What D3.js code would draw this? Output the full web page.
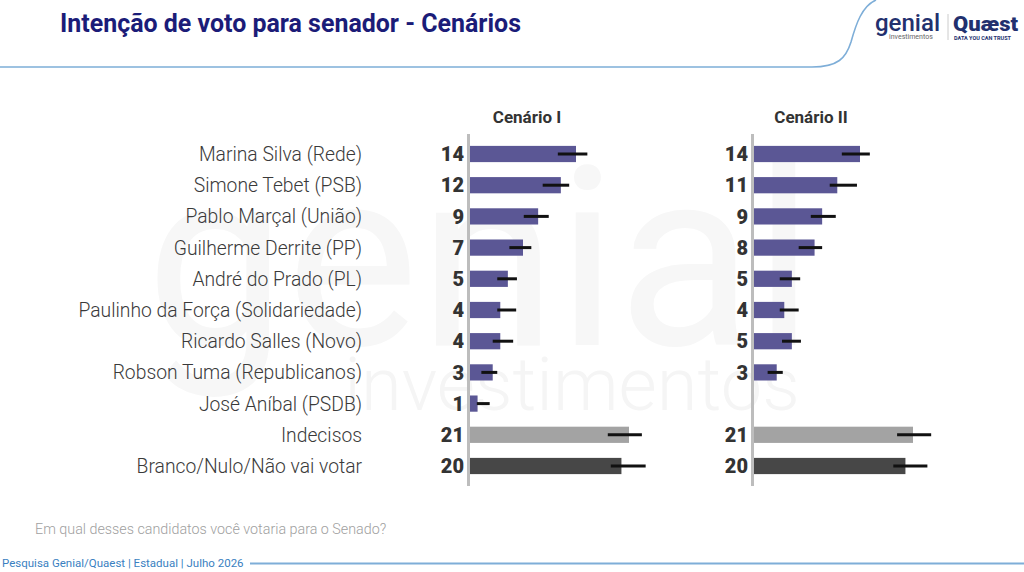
<!DOCTYPE html>
<html>
<head>
<meta charset="utf-8">
<script src="https://cdn.jsdelivr.net/npm/d3@7"></script>
<style>
  body { margin: 0; background: #fff; }
  svg { display: block; font-family: Roboto, "Noto Sans", sans-serif; }
</style>
</head>
<body>
<div id="chart"></div>
<script>
// data
var categories = ["Marina Silva (Rede)", "Simone Tebet (PSB)", "Pablo Marçal (União)",
  "Guilherme Derrite (PP)", "André do Prado (PL)", "Paulinho da Força (Solidariedade)",
  "Ricardo Salles (Novo)", "Robson Tuma (Republicanos)", "José Aníbal (PSDB)",
  "Indecisos", "Branco/Nulo/Não vai votar"];
var scenarios = ["Cenário I", "Cenário II"];
var values1 = [14, 12, 9, 7, 5, 4, 4, 3, 1, 21, 20];
var values2 = [14, 11, 9, 8, 5, 4, 5, 3, null, 21, 20];
var low1  = [11.6, 9.6, 7.1, 5.2, 3.6, 3.6, 3.0, 1.5, 0.9, 18.2, 18.6];
var high1 = [15.5, 13.1, 10.4, 8.1, 6.2, 6.1, 5.7, 3.6, 2.6, 22.7, 23.2];
var low2  = [11.6, 10.0, 7.5, 5.9, 3.4, 3.4, 3.7, 1.8, null, 18.9, 18.4];
var high2 = [15.3, 13.6, 10.8, 9.0, 6.1, 5.9, 6.2, 3.8, null, 23.4, 22.9];

var width = 1024, height = 572;

var svg = d3.select("#chart").append("svg")
  .attr("width", width)
  .attr("height", height);

// faint watermark
svg.append("text")
  .attr("x", 480).attr("y", 345)
  .attr("text-anchor", "middle")
  .style("font-size", "250px")
  .style("font-weight", 400)
  .style("fill", "#f7f7f7")
  .text("genial");
svg.append("text")
  .attr("x", 572).attr("y", 410)
  .attr("text-anchor", "middle")
  .style("font-size", "74px")
  .style("font-weight", 300)
  .style("fill", "#f5f5f5")
  .text("investimentos");

// header
svg.append("text")
  .attr("x", 60).attr("y", 32)
  .style("font-size", "25px")
  .style("font-weight", 700)
  .style("fill", "#1b1c78")
  .attr("textLength", 461)
  .attr("lengthAdjust", "spacingAndGlyphs")
  .text("Intenção de voto para senador - Cenários");

svg.append("path")
  .attr("d", "M0,67 L812,67 C838,67 846,58 851,42 C856,24 862,6 876,0")
  .attr("fill", "none")
  .attr("stroke", "#7eaed8")
  .attr("stroke-width", 1.6);

// logos
svg.append("text").attr("x", 875).attr("y", 31)
  .style("font-size", "24px").style("fill", "#22306e").style("font-weight", 500)
  .text("genial");
svg.append("text").attr("x", 889).attr("y", 39)
  .style("font-size", "7px").style("fill", "#666")
  .text("investimentos");
svg.append("line").attr("x1", 948).attr("x2", 948).attr("y1", 14).attr("y2", 40)
  .attr("stroke", "#ccc");
svg.append("text").attr("x", 953).attr("y", 31)
  .style("font-size", "20px").style("fill", "#22306e").style("font-weight", 900)
  .attr("textLength", 65)
  .attr("lengthAdjust", "spacingAndGlyphs")
  .text("Quæst");
svg.append("text").attr("x", 954).attr("y", 40)
  .style("font-size", "5.5px").style("fill", "#22306e").style("font-weight", 700)
  .text("DATA YOU CAN TRUST");

// scales
var y = d3.scaleBand()
  .domain(categories)
  .range([138.4, 481.6])
  .paddingInner(0.48)
  .paddingOuter(0.24);

var x = d3.scaleLinear().domain([0, 21]).range([0, 159]);

function barColor(i) {
  if (categories[i] === "Indecisos") return "#a3a3a3";
  if (categories[i] === "Branco/Nulo/Não vai votar") return "#474747";
  return "#5b5795";
}

// category labels
svg.append("g").selectAll("text")
  .data(categories)
  .join("text")
  .attr("x", 362)
  .attr("y", function(d) { return y(d) + y.bandwidth() / 2; })
  .attr("dy", "0.36em")
  .attr("text-anchor", "end")
  .style("font-size", "19.3px")
  .style("font-weight", 300)
  .style("fill", "#3a3a3a")
  .text(function(d) { return d; });

var panels = [
  {name: scenarios[0], x0: 470, values: values1, low: low1, high: high1},
  {name: scenarios[1], x0: 754, values: values2, low: low2, high: high2}
];

panels.forEach(function(p) {
  var g = svg.append("g").attr("transform", "translate(" + p.x0 + ",0)");
  var rows = categories.map(function(c, i) {
    return {cat: c, i: i, v: p.values[i], lo: p.low[i], hi: p.high[i]};
  });

  g.append("text")
    .attr("x", 57).attr("y", 123)
    .attr("text-anchor", "middle")
    .style("font-size", "17px")
    .style("font-weight", 700)
    .style("fill", "#333")
    .text(p.name);

  g.selectAll("rect.bar")
    .data(rows.filter(function(d) { return d.v != null; }))
    .join("rect")
    .attr("class", "bar")
    .attr("x", 0)
    .attr("y", function(d) { return y(d.cat); })
    .attr("width", function(d) { return x(d.v); })
    .attr("height", y.bandwidth())
    .attr("fill", function(d) { return barColor(d.i); });

  g.selectAll("line.err")
    .data(rows.filter(function(d) { return d.lo != null; }))
    .join("line")
    .attr("class", "err")
    .attr("x1", function(d) { return x(d.lo); })
    .attr("x2", function(d) { return x(d.hi); })
    .attr("y1", function(d) { return y(d.cat) + y.bandwidth() / 2; })
    .attr("y2", function(d) { return y(d.cat) + y.bandwidth() / 2; })
    .attr("stroke", "#111")
    .attr("stroke-width", 3);

  g.selectAll("text.val")
    .data(rows.filter(function(d) { return d.v != null; }))
    .join("text")
    .attr("class", "val")
    .attr("x", -6)
    .attr("y", function(d) { return y(d.cat) + y.bandwidth() / 2; })
    .attr("dy", "0.36em")
    .attr("text-anchor", "end")
    .style("font-size", "20px")
    .style("font-weight", 900)
    .style("fill", "#333")
    .text(function(d) { return d.v; });

  g.append("line")
    .attr("x1", -1.5).attr("x2", -1.5)
    .attr("y1", 134).attr("y2", 486)
    .attr("stroke", "#bdbdbd")
    .attr("stroke-width", 3);
});

// footer
svg.append("text")
  .attr("x", 35).attr("y", 534)
  .style("font-size", "14.3px")
  .style("font-weight", 300)
  .style("fill", "#a0a0a0")
  .text("Em qual desses candidatos você votaria para o Senado?");

svg.append("text")
  .attr("x", 2).attr("y", 567)
  .style("font-size", "11.5px")
  .style("fill", "#3a7fc1")
  .text("Pesquisa Genial/Quaest | Estadual | Julho 2026");

svg.append("line")
  .attr("x1", 250).attr("x2", 1024)
  .attr("y1", 563.5).attr("y2", 563.5)
  .attr("stroke", "#7eaed8")
  .attr("stroke-width", 2);
</script>
</body>
</html>
